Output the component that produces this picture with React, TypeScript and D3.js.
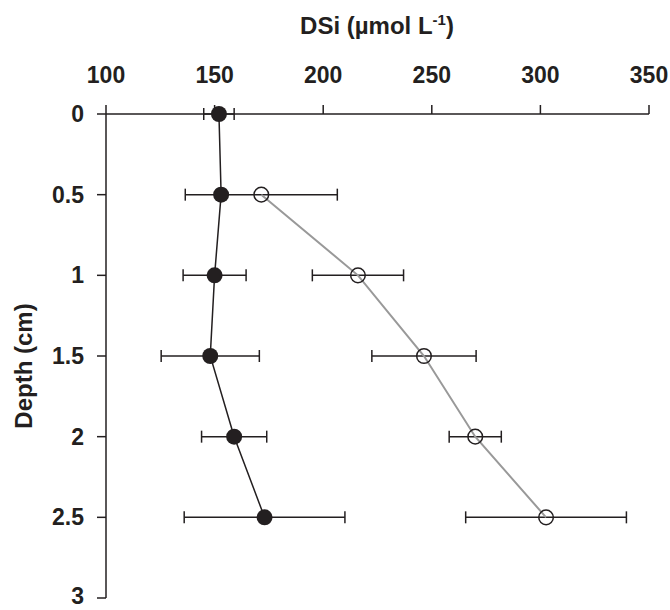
import React from "react";
import * as d3 from "d3";

const depths = [0, 0.5, 1, 1.5, 2, 2.5];
const filledMean = [152, 153, 150, 148, 159, 173];
const filledErr = [7, 2, 14.5, 22.6, 15, 37];
const openDepths = [0.5, 1, 1.5, 2, 2.5];
const openMean = [171.5, 216, 246.4, 270, 302.6];
const openErr = [35, 21, 24, 12, 37];
const xTicks = [100, 150, 200, 250, 300, 350];
const yTicks = [0, 0.5, 1, 1.5, 2, 2.5, 3];

const W = 670;
const H = 610;
const FONT = "'Liberation Sans', Arial, sans-serif";
const INK = "#231f20";

export default function App() {
  const x = d3.scaleLinear().domain([100, 350]).range([106, 649]);
  const y = d3.scaleLinear().domain([0, 3]).range([114, 598]);

  const filled = depths.map((d, i) => ({ d, v: filledMean[i], e: filledErr[i] }));
  const open = openDepths.map((d, i) => ({ d, v: openMean[i], e: openErr[i] }));

  const line = d3
    .line<{ d: number; v: number }>()
    .x((p) => x(p.v))
    .y((p) => y(p.d));

  const cap = 6;
  const errBars = (data: { d: number; v: number; e: number }[], key: string) =>
    data.map((p, i) => {
      const yy = y(p.d);
      const x0 = x(p.v - p.e);
      const x1 = x(p.v + p.e);
      return (
        <g key={key + i} stroke={INK} strokeWidth={1.5}>
          <line x1={x0} x2={x1} y1={yy} y2={yy} />
          <line x1={x0} x2={x0} y1={yy - cap} y2={yy + cap} />
          <line x1={x1} x2={x1} y1={yy - cap} y2={yy + cap} />
        </g>
      );
    });

  return (
    <svg width={W} height={H} style={{ position: "absolute", left: 0, top: 0 }}>
      <rect width={W} height={H} fill="#fff" />
      {/* axes */}
      <g stroke={INK} strokeWidth={1.5} fill="none">
        <line x1={97} x2={x(350)} y1={y(0)} y2={y(0)} />
        <line x1={x(100)} x2={x(100)} y1={y(0) - 9} y2={y(3)} />
        {xTicks.slice(1).map((t) => (
          <line key={"xt" + t} x1={x(t)} x2={x(t)} y1={y(0)} y2={y(0) - 9} />
        ))}
        {yTicks.slice(1).map((t) => (
          <line key={"yt" + t} x1={x(100) - 9} x2={x(100)} y1={y(t)} y2={y(t)} />
        ))}
      </g>
      {/* tick labels */}
      <g fontFamily={FONT} fontWeight="bold" fontSize={23} fill={INK}>
        {xTicks.map((t) => (
          <text key={"xl" + t} x={x(t)} y={83} textAnchor="middle">
            {t}
          </text>
        ))}
        {yTicks.map((t) => (
          <text key={"yl" + t} x={84} y={Math.min(y(t) + 8, 604)} textAnchor="end">
            {t}
          </text>
        ))}
      </g>
      {/* titles */}
      <text x={377} y={34} textAnchor="middle" fontFamily={FONT} fontWeight="bold" fontSize={24} fill={INK}>
        DSi (µmol L
        <tspan dy={-9} fontSize={15}>-1</tspan>
        <tspan dy={9}>)</tspan>
      </text>
      <text
        transform={`translate(23,366) rotate(-90)`}
        textAnchor="middle"
        dominantBaseline="central"
        fontFamily={FONT}
        fontWeight="bold"
        fontSize={24}
        fill={INK}
      >
        Depth (cm)
      </text>
      {/* error bars */}
      {errBars(open, "oe")}
      {errBars(filled, "fe")}
      {/* lines */}
      <path d={line(open) || ""} fill="none" stroke="#999" strokeWidth={2} />
      <path d={line(filled) || ""} fill="none" stroke={INK} strokeWidth={1.5} />
      {/* markers */}
      {open.map((p, i) => (
        <circle key={"oc" + i} cx={x(p.v)} cy={y(p.d)} r={7.3} fill="none" stroke={INK} strokeWidth={1.5} />
      ))}
      {filled.map((p, i) => (
        <circle key={"fc" + i} cx={x(p.v)} cy={y(p.d)} r={8} fill={INK} />
      ))}
    </svg>
  );
}
